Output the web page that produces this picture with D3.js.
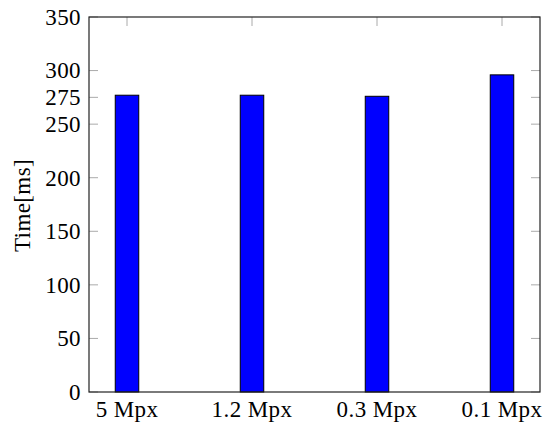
<!DOCTYPE html>
<html>
<head>
<meta charset="utf-8">
<script src="https://cdn.jsdelivr.net/npm/d3@7"></script>
<style>
  body { margin: 0; background: #fff; }
  text { font-family: "Liberation Serif", "Times New Roman", serif; fill: #000; letter-spacing: 0.4px; }
</style>
</head>
<body>
<svg id="chart" width="550" height="433"></svg>
<script>
// data
const categories = ["5 Mpx", "1.2 Mpx", "0.3 Mpx", "0.1 Mpx"];
const times = [277, 277, 276, 296];
const yTicks = [0, 50, 100, 150, 200, 250, 275, 300, 350];

const plotLeft = 89, plotRight = 540, plotTop = 17, plotBottom = 392;
const barWidth = 23.5;
const fontSize = "23px";

const svg = d3.select("#chart");

const x = d3.scalePoint()
    .domain(categories)
    .range([plotLeft, plotRight])
    .padding(0.304);

const y = d3.scaleLinear()
    .domain([0, 350])
    .range([plotBottom, plotTop]);

// tick marks (inside, grey) on left, right and top
const tickG = svg.append("g").attr("stroke", "#aaa").attr("stroke-width", 1);
tickG.selectAll(".lt")
    .data(yTicks)
    .enter()
    .append("line")
    .attr("x1", plotLeft).attr("x2", plotLeft + 9)
    .attr("y1", d => y(d)).attr("y2", d => y(d));
tickG.selectAll(".rt")
    .data(yTicks)
    .enter()
    .append("line")
    .attr("x1", plotRight - 9).attr("x2", plotRight)
    .attr("y1", d => y(d)).attr("y2", d => y(d));
tickG.selectAll(".tt")
    .data(categories)
    .enter()
    .append("line")
    .attr("x1", d => x(d)).attr("x2", d => x(d))
    .attr("y1", plotTop).attr("y2", plotTop + 9);

// bars
svg.append("g")
    .selectAll("rect")
    .data(times)
    .enter()
    .append("rect")
    .attr("x", (d, i) => x(categories[i]) - barWidth / 2)
    .attr("width", barWidth)
    .attr("y", d => y(d))
    .attr("height", d => y(0) - y(d))
    .attr("fill", "#0000ff")
    .attr("stroke", "#000")
    .attr("stroke-width", 1);

// frame
svg.append("rect")
    .attr("x", plotLeft).attr("y", plotTop)
    .attr("width", plotRight - plotLeft).attr("height", plotBottom - plotTop)
    .attr("fill", "none")
    .attr("stroke", "#222")
    .attr("stroke-width", 1.2);

// y labels
svg.append("g")
    .selectAll("text")
    .data(yTicks)
    .enter()
    .append("text")
    .attr("x", plotLeft - 8)
    .attr("y", d => y(d))
    .attr("dy", "0.34em")
    .attr("text-anchor", "end")
    .style("font-size", fontSize)
    .text(d => d);

// x labels
svg.append("g")
    .selectAll("text")
    .data(categories)
    .enter()
    .append("text")
    .attr("x", d => x(d))
    .attr("y", 417)
    .attr("text-anchor", "middle")
    .style("font-size", fontSize)
    .text(d => d);

// axis title
svg.append("text")
    .attr("transform", "translate(30," + ((plotTop + plotBottom) / 2 + 1) + ") rotate(-90)")
    .attr("text-anchor", "middle")
    .style("font-size", fontSize)
    .text("Time[ms]");
</script>
</body>
</html>
